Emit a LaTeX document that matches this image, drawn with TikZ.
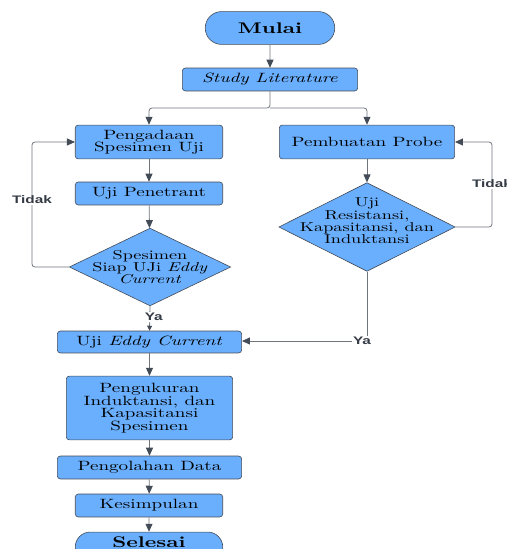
\documentclass[tikz,border=0pt]{standalone}
\usepackage{fontspec}
\setmainfont{lmroman10-regular}[Extension=.otf,
  BoldFont=lmroman10-bold, ItalicFont=lmroman10-italic,
  BoldItalicFont=lmroman10-bolditalic, FakeStretch=1.42]
\newfontfamily\labelfont{Liberation Sans}[FakeStretch=1.4]
\usetikzlibrary{arrows.meta}
\usetikzlibrary{shapes.geometric}
\usetikzlibrary{shapes.misc}
\definecolor{kotak}{HTML}{6AAFFD}
\definecolor{garis}{HTML}{434B57}
\definecolor{konektor}{HTML}{70757C}

\tikzset{
  proses/.style={draw=garis, fill=kotak, rounded corners=3bp, line width=0.6bp,
    align=center, inner sep=0pt, font=\fontsize{13.5}{12.5}\selectfont},
  keputusan/.style={diamond, draw=garis, fill=kotak, line width=0.6bp,
    inner sep=0pt, aspect=2},
  teksbelah/.style={align=center, inner sep=0pt, font=\fontsize{12.9}{12.3}\selectfont},
  terminal/.style={rounded rectangle, draw=garis, fill=kotak, line width=0.6bp,
    inner sep=0pt, font=\bfseries\fontsize{15.5}{16}\selectfont},
  panah/.style={draw=konektor, line width=0.8bp,
    -{Triangle[length=8bp,width=7bp,color=garis]}},
  ket/.style={fill=white, inner sep=1bp, text=garis!80!black,
    font=\labelfont\bfseries\fontsize{11}{11}\selectfont}
}

\begin{document}
\begin{tikzpicture}[x=1bp, y=-1bp]
  \useasboundingbox (0,0) rectangle (507,549);

  % Awal
  \node[terminal, minimum width=130, minimum height=33] (mulai) at (270,28) {Mulai};
  \node[proses, minimum width=176, minimum height=23] (studi) at (270,79.5) {\textit{Study Literature}};

  % Cabang kiri
  \node[proses, minimum width=148, minimum height=34] (pengadaan) at (149,142) {Pengadaan\\Spesimen Uji};
  \node[proses, minimum width=148, minimum height=23] (penetrant) at (149,193.5) {Uji Penetrant};
  \node[keputusan, minimum width=162, minimum height=78,
    label={[teksbelah]center:Spesimen\\Siap UJi \textit{Eddy}\\\textit{Current}}] (siap) at (150,267) {};

  % Cabang kanan
  \node[proses, minimum width=176, minimum height=34] (probe) at (367,142) {Pembuatan Probe};
  \node[keputusan, minimum width=177, minimum height=89,
    label={[teksbelah, yshift=6bp]center:Uji\\Resistansi,\\Kapasitansi, dan\\Induktansi}] (cek) at (367,227) {};

  % Alur bawah
  \node[proses, minimum width=185, minimum height=22] (eddy) at (149.5,342) {Uji \textit{Eddy Current}};
  \node[proses, minimum width=167, minimum height=64] (ukur) at (149.5,408) {Pengukuran\\Induktansi, dan\\Kapasitansi\\Spesimen};
  \node[proses, minimum width=185, minimum height=23] (olah) at (149.5,467.5) {Pengolahan Data};
  \node[proses, minimum width=148, minimum height=23] (simpul) at (149,505.5) {Kesimpulan};
  \node[terminal, minimum width=148, minimum height=30] (selesai) at (149,547) {\raisebox{10bp}{Selesai}};

  % Titik bantu
  \coordinate (bagi) at (270,108);
  \coordinate (kiriatas) at (32,142);
  \coordinate (kiribawah) at (32,267);
  \coordinate (kananatas) at (492,142);
  \coordinate (kananbawah) at (492,227);
  \coordinate (sudut) at (367,341);

  % Konektor
  \draw[panah] (mulai) -- (studi);
  \draw[panah, rounded corners=3bp] (studi.south) -- (bagi) -| (pengadaan.north);
  \draw[panah, rounded corners=3bp] (bagi) -| (probe.north);
  \draw[panah] (pengadaan) -- (penetrant);
  \draw[panah] (penetrant) -- (siap);
  \draw[panah, rounded corners=3bp] (siap.west) -- (kiribawah) -- (kiriatas) -- (pengadaan.west);
  \draw[panah] (probe) -- (cek);
  \draw[panah, rounded corners=3bp] (cek.east) -- (kananbawah) -- (kananatas) -- (probe.east);
  \draw[panah, -{Triangle[length=5bp,width=5bp,color=garis]}] (siap.south) -- (eddy.north)
    node[ket, pos=0.45, xshift=4bp] (ya1) {Ya};
  \draw[panah] (cek.south) -- (sudut) -- (eddy.east |- sudut);
  \draw[panah] (eddy) -- (ukur);
  \draw[panah] (ukur) -- (olah);
  \draw[panah] (olah) -- (simpul);
  \draw[panah] (simpul) -- (selesai);

  % Keterangan
  \node[ket] (tidak1) at (32,200) {Tidak};
  \node[ket] (tidak2) at (492,184) {Tidak};
  \node[ket, xshift=-5bp] (ya2) at (sudut) {Ya};
\end{tikzpicture}
\end{document}
